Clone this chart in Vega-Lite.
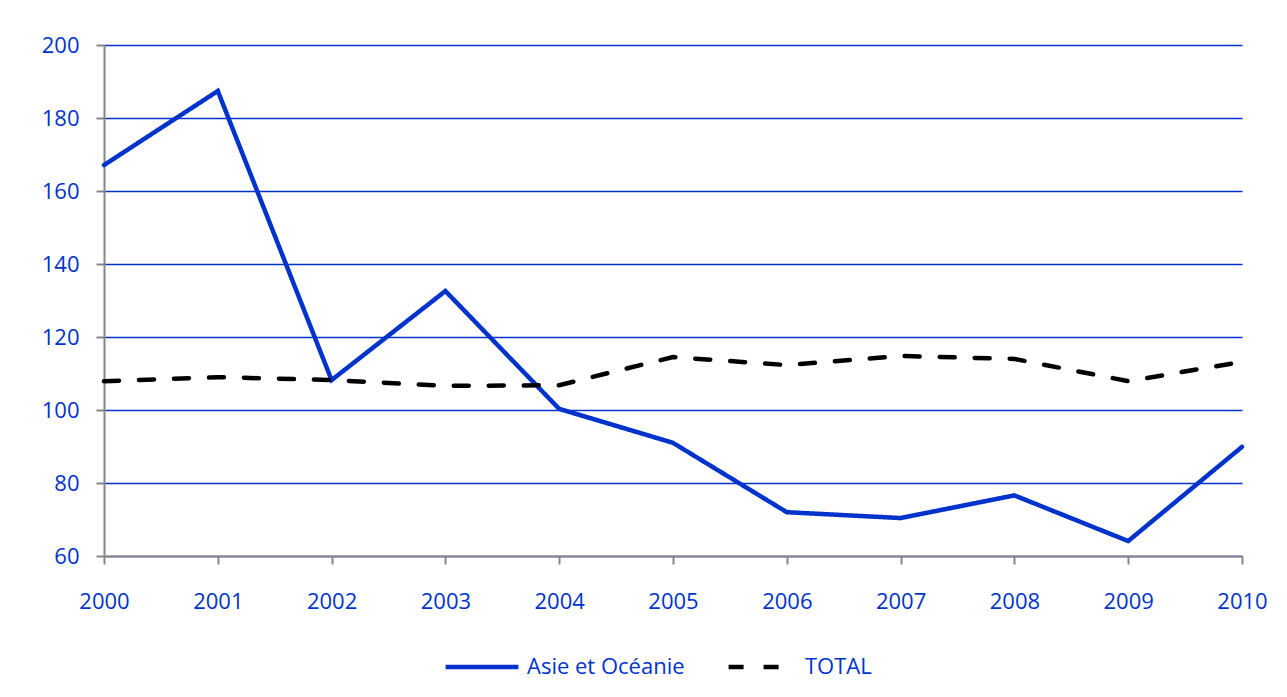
{
  "$schema": "https://vega.github.io/schema/vega-lite/v6.json",
  "autosize": {"type": "none"},
  "width": 1138,
  "height": 511,
  "padding": {"left": 104, "top": 45, "right": 45, "bottom": 141},
  "background": "white",
  "config": {
    "view": {"stroke": null},
    "font": "Open Sans"
  },
  "data": {
    "values": [
      {"year": "2000", "series": "Asie et Océanie", "value": 167.1},
      {"year": "2001", "series": "Asie et Océanie", "value": 187.4},
      {"year": "2002", "series": "Asie et Océanie", "value": 108.2},
      {"year": "2003", "series": "Asie et Océanie", "value": 132.6},
      {"year": "2004", "series": "Asie et Océanie", "value": 100.3},
      {"year": "2005", "series": "Asie et Océanie", "value": 91.0},
      {"year": "2006", "series": "Asie et Océanie", "value": 72.0},
      {"year": "2007", "series": "Asie et Océanie", "value": 70.4},
      {"year": "2008", "series": "Asie et Océanie", "value": 76.6},
      {"year": "2009", "series": "Asie et Océanie", "value": 64.1},
      {"year": "2010", "series": "Asie et Océanie", "value": 89.9},
      {"year": "2000", "series": "TOTAL", "value": 107.9},
      {"year": "2001", "series": "TOTAL", "value": 109.0},
      {"year": "2002", "series": "TOTAL", "value": 108.2},
      {"year": "2003", "series": "TOTAL", "value": 106.6},
      {"year": "2004", "series": "TOTAL", "value": 106.8},
      {"year": "2005", "series": "TOTAL", "value": 114.5},
      {"year": "2006", "series": "TOTAL", "value": 112.3},
      {"year": "2007", "series": "TOTAL", "value": 114.8},
      {"year": "2008", "series": "TOTAL", "value": 114.0},
      {"year": "2009", "series": "TOTAL", "value": 107.9},
      {"year": "2010", "series": "TOTAL", "value": 113.2}
    ]
  },
  "mark": {"type": "line", "strokeWidth": 4.5, "strokeCap": "round", "strokeJoin": "miter"},
  "encoding": {
    "x": {
      "field": "year",
      "type": "ordinal",
      "scale": {"type": "point", "padding": 0},
      "axis": {
        "title": null,
        "labelAngle": 0,
        "labelFontSize": 22,
        "labelColor": "#0033CC",
        "labelPadding": 27,
        "tickSize": 8,
        "tickColor": "#868686",
        "tickWidth": 2,
        "domainColor": "#868686",
        "domainWidth": 2,
        "grid": false
      }
    },
    "y": {
      "field": "value",
      "type": "quantitative",
      "scale": {"domain": [60, 200], "nice": false, "zero": false},
      "axis": {
        "title": null,
        "values": [60, 80, 100, 120, 140, 160, 180, 200],
        "labelFontSize": 22,
        "labelColor": "#0033CC",
        "labelPadding": 17,
        "tickSize": 8,
        "tickColor": "#868686",
        "tickWidth": 2,
        "domainColor": "#868686",
        "domainWidth": 2,
        "grid": true,
        "gridColor": "#0033CC",
        "gridWidth": 1.5,
        "gridOpacity": 1
      }
    },
    "color": {
      "field": "series",
      "type": "nominal",
      "scale": {"domain": ["Asie et Océanie", "TOTAL"], "range": ["#0033CC", "#000000"]},
      "legend": {
        "title": null,
        "orient": "none",
        "direction": "horizontal",
        "legendX": 339,
        "legendY": 583,
        "symbolType": "stroke",
        "symbolSize": 5300,
        "symbolStrokeWidth": 4.5,
        "symbolDashOffset": 30,
        "labelFontSize": 22,
        "labelColor": "#0033CC",
        "labelOffset": 6,
        "columnPadding": 29
      }
    },
    "strokeDash": {
      "field": "series",
      "type": "nominal",
      "scale": {"domain": ["Asie et Océanie", "TOTAL"], "range": [[1, 0], [15, 20]]},
      "legend": null
    }
  }
}
